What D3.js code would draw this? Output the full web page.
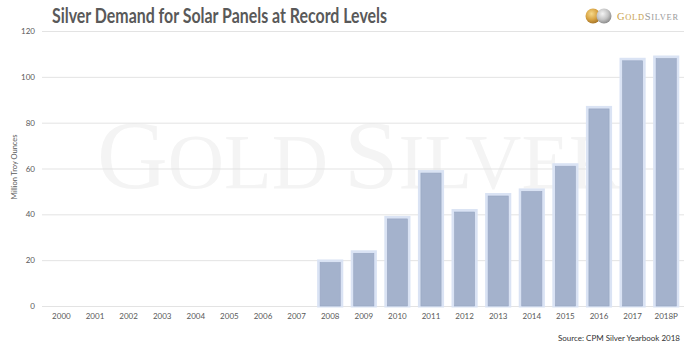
<!DOCTYPE html>
<html>
<head>
<meta charset="utf-8">
<script src="https://cdn.jsdelivr.net/npm/d3@7"></script>
<style>
  html, body { margin: 0; padding: 0; background: #fff; }
  svg { display: block; }
</style>
</head>
<body>
<svg id="chart" width="692" height="359"></svg>
<script>
const categories = ["2000","2001","2002","2003","2004","2005","2006","2007","2008","2009","2010","2011","2012","2013","2014","2015","2016","2017","2018P"];
const values = [0,0,0,0,0,0,0,0,19,23,38,58,41,48,50,61,86,107,108];
const yTicks = [0,20,40,60,80,100,120];
const titleText = "Silver Demand for Solar Panels at Record Levels";
const yAxisTitle = "Million Troy Ounces";
const sourceText = "Source: CPM Silver Yearbook 2018";

const svg = d3.select("#chart");
const W = 692, H = 359;
const font = "Lato, 'Open Sans', sans-serif";

const x = d3.scaleBand().domain(categories).range([44.6, 683]).paddingInner(0.4).paddingOuter(0.2);
const y = d3.scaleLinear().domain([0, 120]).range([306, 31]);

svg.append("rect").attr("width", W).attr("height", H).attr("fill", "#fff");

// watermark
const wm = svg.append("text")
  .attr("x", 97).attr("y", 188)
  .attr("font-family", "'Liberation Serif', 'DejaVu Serif', serif")
  .attr("fill", "#f4f4f4");
wm.append("tspan").attr("font-size", 98).text("G");
wm.append("tspan").attr("font-size", 78).text("OLD");
wm.append("tspan").attr("font-size", 98).attr("dx", 16).text("S");
wm.append("tspan").attr("font-size", 78).text("ILVER");

// gridlines
const grid = d3.axisLeft(y).tickValues(yTicks).tickSize(-(684 - 42)).tickFormat("");
svg.append("g").attr("transform", "translate(42,0)").call(grid)
  .call(g => g.select(".domain").remove())
  .call(g => g.selectAll(".tick line").attr("stroke", "#e3e3e3").attr("stroke-width", 1));

// y labels
const yAxis = d3.axisLeft(y).tickValues(yTicks).tickSize(0).tickPadding(0);
svg.append("g").attr("transform", "translate(35,0)").call(yAxis)
  .call(g => g.select(".domain").remove())
  .call(g => g.selectAll("text").attr("font-family", font).attr("font-size", 8).attr("fill", "#595959"));

// x labels
const xAxis = d3.axisBottom(x).tickSize(0).tickPadding(0);
svg.append("g").attr("transform", "translate(0,313)").call(xAxis)
  .call(g => g.select(".domain").remove())
  .call(g => g.selectAll("text").attr("font-family", font).attr("font-size", 8).attr("fill", "#595959"));

// bars
const data = categories.map((c, i) => ({c, v: values[i]})).filter(d => d.v > 0);
const bars = svg.append("g");
bars.selectAll("rect.glow").data(data).join("rect")
  .attr("class", "glow")
  .attr("x", d => x(d.c) - 1.5)
  .attr("y", d => y(d.v) - 1.5)
  .attr("width", x.bandwidth() + 3)
  .attr("height", d => y(0) - y(d.v) + 1.5)
  .attr("fill", "none")
  .attr("stroke", "#dae3f4")
  .attr("stroke-width", 3);
bars.selectAll("rect.bar").data(data).join("rect")
  .attr("class", "bar")
  .attr("x", d => x(d.c))
  .attr("y", d => y(d.v))
  .attr("width", x.bandwidth())
  .attr("height", d => y(0) - y(d.v))
  .attr("fill", "#a4b2cc")
  .attr("stroke", "#94a3c0")
  .attr("stroke-width", 0.6);

// title
svg.append("text")
  .attr("x", 52).attr("y", 23)
  .attr("font-family", font).attr("font-weight", "bold").attr("font-size", 20.5)
  .attr("fill", "#595959")
  .attr("textLength", 335).attr("lengthAdjust", "spacingAndGlyphs")
  .text(titleText);

// y axis title
svg.append("text")
  .attr("transform", "translate(17,167) rotate(-90)")
  .attr("text-anchor", "middle")
  .attr("font-family", font).attr("font-size", 7.5)
  .attr("fill", "#595959")
  .text(yAxisTitle);

// source
svg.append("text")
  .attr("x", 680).attr("y", 341)
  .attr("text-anchor", "end")
  .attr("font-family", font).attr("font-size", 8)
  .attr("fill", "#333")
  .text(sourceText);

// logo
const defs = svg.append("defs");
const gg = defs.append("radialGradient").attr("id", "gold").attr("cx", "40%").attr("cy", "35%").attr("r", "65%");
gg.append("stop").attr("offset", "0%").attr("stop-color", "#f6d98a");
gg.append("stop").attr("offset", "60%").attr("stop-color", "#d8a444");
gg.append("stop").attr("offset", "100%").attr("stop-color", "#a8772a");
const sg = defs.append("radialGradient").attr("id", "silver").attr("cx", "40%").attr("cy", "35%").attr("r", "65%");
sg.append("stop").attr("offset", "0%").attr("stop-color", "#f4f4f4");
sg.append("stop").attr("offset", "60%").attr("stop-color", "#c4c4c4");
sg.append("stop").attr("offset", "100%").attr("stop-color", "#8e8e8e");
svg.append("circle").attr("cx", 593).attr("cy", 16).attr("r", 7.5).attr("fill", "url(#gold)");
svg.append("circle").attr("cx", 604).attr("cy", 16).attr("r", 7.5).attr("fill", "url(#silver)");
const lg = svg.append("text").attr("x", 617).attr("y", 20)
  .attr("font-family", "'Liberation Serif', serif")
  .attr("textLength", 61).attr("lengthAdjust", "spacing");
lg.append("tspan").attr("font-size", 10.5).attr("fill", "#c9a048").text("G");
lg.append("tspan").attr("font-size", 8.4).attr("fill", "#c9a048").text("OLD");
lg.append("tspan").attr("font-size", 10.5).attr("fill", "#9a9a9a").text("S");
lg.append("tspan").attr("font-size", 8.4).attr("fill", "#9a9a9a").text("ILVER");
</script>
</body>
</html>
